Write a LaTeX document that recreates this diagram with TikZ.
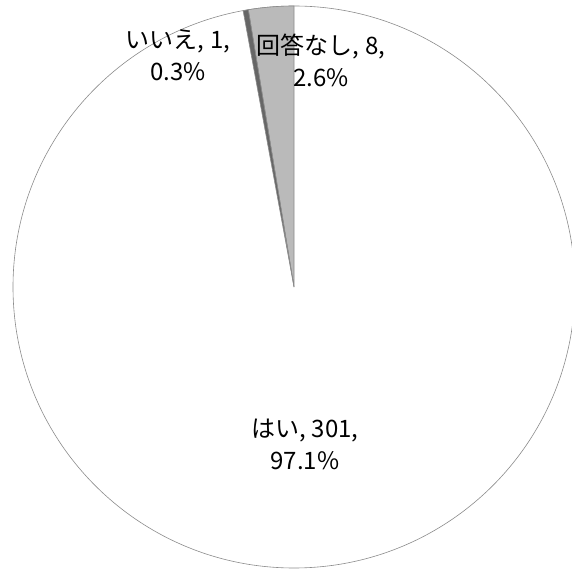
\documentclass[tikz,border=0pt]{standalone}
\usepackage{fontspec}
\setmainfont{Noto Sans CJK JP}
\usetikzlibrary{positioning}
\tikzset{
    slice/.style={draw=black!45, line width=0.6pt},
    lbl/.style={align=center, font=\fontsize{24}{32}\selectfont, inner sep=0pt}
}

\begin{document}
\begin{tikzpicture}[x=1pt,y=1pt]
    \useasboundingbox (0,0) rectangle (572,573);
    \coordinate (O) at (294,286);

    % はい 97.1%, いいえ 0.3%, 回答なし 2.6%
    \path[slice, fill=white] (O) circle[radius=281pt];
    \path[slice, fill=black!27] (O) -- ++(90:281pt) arc[start angle=90, end angle=99.36, radius=281pt] -- cycle;
    \path[slice, fill=black!60] (O) -- ++(99.36:281pt) arc[start angle=99.36, end angle=100.44, radius=281pt] -- cycle;

    \node[lbl] (iie) at (178,518) {いいえ, 1,\\0.3\%};
    \node[lbl] (nashi) at (321,513) {回答なし, 8,\\2.6\%};
    \node[lbl] (hai) at (305,129) {はい, 301,\\97.1\%};
\end{tikzpicture}
\end{document}
